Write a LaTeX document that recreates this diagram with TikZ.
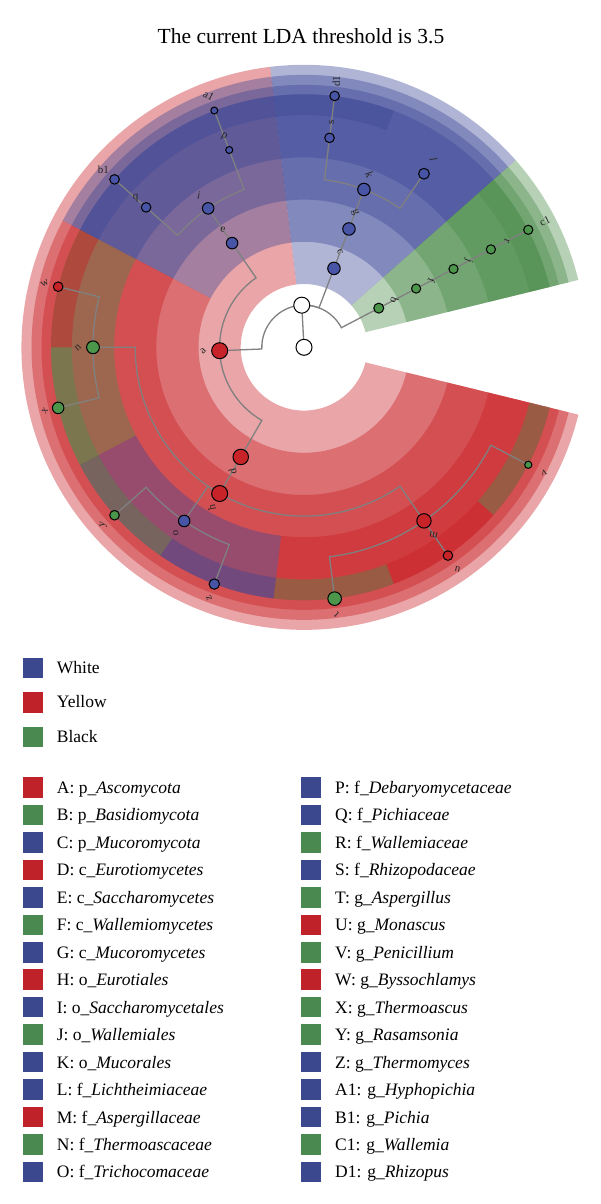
\documentclass[tikz,border=0pt]{standalone}
\usepackage{fontspec}
\setmainfont{Liberation Serif}
\definecolor{rbase}{RGB}{200,30,35}
\definecolor{bbase}{RGB}{60,70,150}
\definecolor{gbase}{RGB}{75,140,75}
\definecolor{rnode}{RGB}{200,35,40}
\definecolor{bnode}{RGB}{72,84,165}
\definecolor{gnode}{RGB}{75,150,75}
\definecolor{legR}{RGB}{192,34,41}
\definecolor{legB}{RGB}{60,72,142}
\definecolor{legG}{RGB}{74,138,80}
\definecolor{linegray}{RGB}{128,128,128}
\newcommand\clade[5]{\fill[#5,fill opacity=0.4] (#1:#3) arc[start angle=#1,end angle=#2,radius=#3] -- (#2:#4) arc[start angle=#2,end angle=#1,radius=#4] -- cycle;}
\newcommand\brarc[5]{\draw[branch] (#1) -- (#2:#5) arc[start angle=#2,end angle=#4,radius=#5] -- (#3);}
% label: name, text, angle, radius
\newcommand\clabel[4]{\pgfmathsetmacro\rot{#3-138.45}\node[lbl,rotate=\rot] (lab-#1) at (#3:#4) {#2};}
\newcommand\rlabel[5]{\node[lbl,rotate=#5] (lab-#1) at (#3:#4) {#2};}
\begin{document}
\begin{tikzpicture}[x=1pt,y=1pt,
  branch/.style={draw=linegray,line width=1.3pt},
  nd/.style 2 args={circle,draw=black,line width=1pt,inner sep=0pt,minimum size=#2,fill=#1},
  lbl/.style={font=\fontsize{11}{11}\selectfont,text=black!85,inner sep=0pt},
  legsq/.style={minimum size=20.5pt,inner sep=0pt,draw=none},
  legtx/.style={anchor=base west,font=\fontsize{17.5}{17.5}\selectfont,inner sep=0pt},
]
\useasboundingbox (0,-1204) rectangle (600,0);
\node[anchor=base,font=\fontsize{21.5}{21.5}\selectfont,inner sep=0pt] (title) at (301,-44) {The current LDA threshold is 3.5};

\begin{scope}[shift={(304,-347.3)}]
% phylum wedges
\clade{13.8}{41.5}{63.3pt}{282.5pt}{gbase}
\clade{41.5}{96.9}{63.3pt}{282.5pt}{bbase}
\clade{96.9}{346.2}{63.3pt}{282.5pt}{rbase}
% class
\clade{13.8}{41.5}{105.5pt}{272.5pt}{gbase}
\clade{41.5}{96.9}{105.5pt}{272.5pt}{bbase}
\clade{96.9}{152.3}{105.5pt}{272.5pt}{bbase}
\clade{152.3}{346.2}{105.5pt}{272.5pt}{rbase}
% order
\clade{13.8}{41.5}{147.7pt}{262.5pt}{gbase}
\clade{41.5}{96.9}{147.7pt}{262.5pt}{bbase}
\clade{96.9}{152.3}{147.7pt}{262.5pt}{bbase}
\clade{152.3}{346.2}{147.7pt}{262.5pt}{rbase}
% family
\clade{13.8}{41.5}{189.9pt}{253pt}{gbase}
\clade{41.5}{69.2}{189.9pt}{253pt}{bbase}
\clade{69.2}{96.9}{189.9pt}{253pt}{bbase}
\clade{96.9}{124.6}{189.9pt}{253pt}{bbase}
\clade{124.6}{152.3}{189.9pt}{253pt}{bbase}
\clade{152.3}{207.7}{189.9pt}{253pt}{gbase}
\clade{207.7}{263.1}{189.9pt}{253pt}{bbase}
\clade{263.1}{346.2}{189.9pt}{253pt}{rbase}
% genus
\clade{13.8}{41.5}{232.1pt}{253pt}{gbase}
\clade{69.2}{96.9}{232.1pt}{253pt}{bbase}
\clade{96.9}{124.6}{232.1pt}{253pt}{bbase}
\clade{124.6}{152.3}{232.1pt}{253pt}{bbase}
\clade{152.3}{180}{232.1pt}{253pt}{rbase}
\clade{180}{207.7}{232.1pt}{253pt}{gbase}
\clade{207.7}{235.4}{232.1pt}{253pt}{gbase}
\clade{235.4}{263.1}{232.1pt}{253pt}{bbase}
\clade{263.1}{290.8}{232.1pt}{253pt}{gbase}
\clade{290.8}{318.5}{232.1pt}{253pt}{rbase}
\clade{318.5}{346.2}{232.1pt}{253pt}{gbase}

% coordinates
\coordinate (root) at (0,0);
\coordinate (king) at (93.05:42.2pt);
\coordinate (a) at (182.31:84.4pt);
\coordinate (b) at (27.65:84.4pt);
\coordinate (c) at (69.2:84.4pt);
\coordinate (d) at (240.02:126.6pt);
\coordinate (e) at (124.6:126.6pt);
\coordinate (f) at (27.65:126.6pt);
\coordinate (g) at (69.2:126.6pt);
\coordinate (h) at (240.02:168.8pt);
\coordinate (i) at (124.6:168.8pt);
\coordinate (j) at (27.65:168.8pt);
\coordinate (k) at (69.2:168.8pt);
\coordinate (l) at (55.35:211pt);
\coordinate (m) at (304.65:211pt);
\coordinate (n) at (180:211pt);
\coordinate (o) at (235.4:211pt);
\coordinate (p) at (110.75:211pt);
\coordinate (q) at (138.45:211pt);
\coordinate (r) at (27.65:211pt);
\coordinate (s) at (83.05:211pt);
\coordinate (t) at (276.95:253.2pt);
\coordinate (u) at (304.65:253.2pt);
\coordinate (v) at (332.35:253.2pt);
\coordinate (w) at (166.15:253.2pt);
\coordinate (x) at (193.85:253.2pt);
\coordinate (y) at (221.55:253.2pt);
\coordinate (z) at (249.25:253.2pt);
\coordinate (a1) at (110.75:253.2pt);
\coordinate (b1) at (138.45:253.2pt);
\coordinate (c1) at (27.65:253.2pt);
\coordinate (d1) at (83.05:253.2pt);

% branches
\draw[branch] (root) -- (king);
\brarc{a}{182.31}{king}{93.05}{42.2pt}
\brarc{b}{27.65}{king}{93.05}{42.2pt}
\brarc{c}{69.2}{king}{93.05}{42.2pt}
\draw[branch] (b) -- (f) -- (j) -- (r) -- (c1);
\draw[branch] (c) -- (g) -- (k);
\brarc{l}{55.35}{k}{69.2}{168.8pt}
\brarc{s}{83.05}{k}{69.2}{168.8pt}
\draw[branch] (s) -- (d1);
\brarc{e}{124.6}{a}{182.31}{84.4pt}
\brarc{d}{240.02}{a}{182.31}{84.4pt}
\draw[branch] (e) -- (i);
\brarc{p}{110.75}{i}{124.6}{168.8pt}
\brarc{q}{138.45}{i}{124.6}{168.8pt}
\draw[branch] (p) -- (a1);
\draw[branch] (q) -- (b1);
\draw[branch] (d) -- (h);
\brarc{n}{180}{h}{240.02}{168.8pt}
\brarc{o}{235.4}{h}{240.02}{168.8pt}
\brarc{m}{304.65}{h}{240.02}{168.8pt}
\brarc{w}{166.15}{n}{180}{211pt}
\brarc{x}{193.85}{n}{180}{211pt}
\brarc{y}{221.55}{o}{235.4}{211pt}
\brarc{z}{249.25}{o}{235.4}{211pt}
\brarc{t}{276.95}{m}{304.65}{211pt}
\draw[branch] (m) -- (u);
\brarc{v}{332.35}{m}{304.65}{211pt}

% nodes
\node[nd={white}{16pt}] (n-root) at (root) {};
\node[nd={white}{16pt}] (n-king) at (king) {};
\node[nd={rnode}{16pt}] (n-a) at (a) {};
\node[nd={gnode}{10pt}] (n-b) at (b) {};
\node[nd={bnode}{12.5pt}] (n-c) at (c) {};
\node[nd={rnode}{15.5pt}] (n-d) at (d) {};
\node[nd={bnode}{11.5pt}] (n-e) at (e) {};
\node[nd={gnode}{9.2pt}] (n-f) at (f) {};
\node[nd={bnode}{12.5pt}] (n-g) at (g) {};
\node[nd={rnode}{16pt}] (n-h) at (h) {};
\node[nd={bnode}{11.5pt}] (n-i) at (i) {};
\node[nd={gnode}{9.2pt}] (n-j) at (j) {};
\node[nd={bnode}{12.5pt}] (n-k) at (k) {};
\node[nd={bnode}{10.8pt}] (n-l) at (l) {};
\node[nd={rnode}{14.4pt}] (n-m) at (m) {};
\node[nd={gnode}{12.8pt}] (n-n) at (n) {};
\node[nd={bnode}{11.5pt}] (n-o) at (o) {};
\node[nd={bnode}{7pt}] (n-p) at (p) {};
\node[nd={bnode}{9.6pt}] (n-q) at (q) {};
\node[nd={gnode}{9.2pt}] (n-r) at (r) {};
\node[nd={bnode}{9.6pt}] (n-s) at (s) {};
\node[nd={gnode}{13.6pt}] (n-t) at (t) {};
\node[nd={rnode}{9.6pt}] (n-u) at (u) {};
\node[nd={gnode}{7.2pt}] (n-v) at (v) {};
\node[nd={rnode}{9.6pt}] (n-w) at (w) {};
\node[nd={gnode}{11.5pt}] (n-x) at (x) {};
\node[nd={gnode}{9.6pt}] (n-y) at (y) {};
\node[nd={bnode}{10.4pt}] (n-z) at (z) {};
\node[nd={bnode}{7pt}] (n-a1) at (a1) {};
\node[nd={bnode}{9.6pt}] (n-b1) at (b1) {};
\node[nd={gnode}{9.2pt}] (n-c1) at (c1) {};
\node[nd={bnode}{9.6pt}] (n-d1) at (d1) {};

% labels
\clabel{a}{a}{182.31}{101pt}
\clabel{b}{b}{27.65}{102pt}
\clabel{c}{c}{69.2}{102pt}
\clabel{d}{d}{240.02}{143pt}
\clabel{e}{e}{124.6}{143pt}
\clabel{f}{f}{27.65}{144pt}
\clabel{g}{g}{69.2}{144pt}
\clabel{h}{h}{240.02}{185pt}
\clabel{i}{i}{124.6}{185pt}
\clabel{j}{j}{27.65}{186pt}
\clabel{k}{k}{69.2}{185pt}
\clabel{l}{l}{55.35}{228pt}
\clabel{m}{m}{304.65}{228pt}
\clabel{n}{n}{180}{226pt}
\clabel{o}{o}{235.4}{226pt}
\clabel{p}{p}{110.75}{225pt}
\clabel{q}{q}{138.45}{225pt}
\clabel{r}{r}{27.65}{229pt}
\rlabel{s}{s}{83.05}{227pt}{90}
\clabel{t}{t}{276.95}{269pt}
\clabel{u}{u}{304.65}{270pt}
\clabel{v}{v}{332.35}{271pt}
\clabel{w}{w}{166.15}{267pt}
\clabel{x}{x}{193.85}{267pt}
\clabel{y}{y}{221.55}{268pt}
\clabel{z}{z}{249.25}{268pt}
\clabel{a1}{a1}{110.75}{269pt}
\clabel{b1}{b1}{138.45}{268pt}
\rlabel{c1}{c1}{27.65}{272pt}{25}
\rlabel{d1}{d1}{83.05}{268pt}{90}
\end{scope}

% group legend
\foreach \txt/\col [count=\i from 0] in {White/legB,Yellow/legR,Black/legG}{
  \node[legsq,fill=\col] (gsq\i) at (32.8,-667.8-34.5*\i) {};
  \node[legtx] (gtx\i) at (56.7,-673.3-34.5*\i) {\txt};
}
% taxa legend
\foreach \txt/\col [count=\i from 0] in {
  {A: p\_\textit{Ascomycota}}/legR,{B: p\_\textit{Basidiomycota}}/legG,{C: p\_\textit{Mucoromycota}}/legB,
  {D: c\_\textit{Eurotiomycetes}}/legR,{E: c\_\textit{Saccharomycetes}}/legB,{F: c\_\textit{Wallemiomycetes}}/legG,
  {G: c\_\textit{Mucoromycetes}}/legB,{H: o\_\textit{Eurotiales}}/legR,{I: o\_\textit{Saccharomycetales}}/legB,
  {J: o\_\textit{Wallemiales}}/legG,{K: o\_\textit{Mucorales}}/legB,{L: f\_\textit{Lichtheimiaceae}}/legB,
  {M: f\_\textit{Aspergillaceae}}/legR,{N: f\_\textit{Thermoascaceae}}/legG,{O: f\_\textit{Trichocomaceae}}/legB}{
  \node[legsq,fill=\col] (lsq\i) at (32.8,-787.5-27.46*\i) {};
  \node[legtx] (ltx\i) at (56.7,-793.5-27.46*\i) {\txt};
}
\foreach \txt/\col [count=\i from 0] in {
  {P: f\_\textit{Debaryomycetaceae}}/legB,{Q: f\_\textit{Pichiaceae}}/legB,{R: f\_\textit{Wallemiaceae}}/legG,
  {S: f\_\textit{Rhizopodaceae}}/legB,{T: g\_\textit{Aspergillus}}/legG,{U: g\_\textit{Monascus}}/legR,
  {V: g\_\textit{Penicillium}}/legG,{W: g\_\textit{Byssochlamys}}/legR,{X: g\_\textit{Thermoascus}}/legG,
  {Y: g\_\textit{Rasamsonia}}/legG,{Z: g\_\textit{Thermomyces}}/legB,{A1: g\_\textit{Hyphopichia}}/legB,
  {B1: g\_\textit{Pichia}}/legB,{C1: g\_\textit{Wallemia}}/legG,{D1: g\_\textit{Rhizopus}}/legB}{
  \node[legsq,fill=\col] (rsq\i) at (311.2,-787.5-27.46*\i) {};
  \node[legtx] (rtx\i) at (335,-793.5-27.46*\i) {\txt};
}
\end{tikzpicture}
\end{document}
